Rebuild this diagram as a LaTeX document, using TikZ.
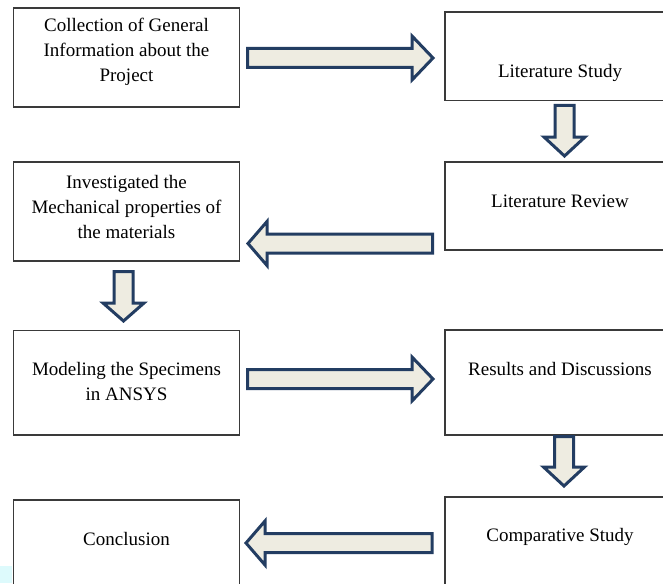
\documentclass[tikz,border=0pt]{standalone}
\usepackage{fontspec}
\setmainfont{Liberation Serif}
\definecolor{arrowline}{HTML}{233D62}
\definecolor{arrowfill}{HTML}{EEECE1}
\definecolor{boxline}{HTML}{3A3A3A}
\definecolor{blob}{HTML}{DDFAFC}
\newcommand{\harrow}[4]{%
  \draw[barrow] (#1,#4-9.5) -- (#2,#4-9.5) -- (#2,#4-22) -- (#3,#4) -- (#2,#4+22) -- (#2,#4+9.5) -- (#1,#4+9.5) -- cycle;}
\newcommand{\varrow}[4]{%
  \draw[barrow] (#4-9.5,#1) -- (#4-9.5,#2) -- (#4-20.5,#2) -- (#4,#3) -- (#4+20.5,#2) -- (#4+9.5,#2) -- (#4+9.5,#1) -- cycle;}
\begin{document}
\begin{tikzpicture}[x=1pt,y=-1pt,
  box/.style={draw=boxline, line width=1.1pt, rectangle, inner sep=0pt},
  lbox/.style={box, minimum width=226pt},
  rbox/.style={box, minimum width=230pt},
  txt/.style={align=center, inner sep=0pt, font=\fontsize{19}{25}\selectfont},
  barrow/.style={draw=arrowline, fill=arrowfill, line width=3pt, line join=miter}]
\clip (0,0) rectangle (663,583);
\fill[white] (0,0) rectangle (663,583);
\fill[blob] (0,566) rectangle (12,583);
% boxes
\node[lbox, minimum height=99pt] (b1) at (126.5,57.5) {};
\node[rbox, minimum height=88.5pt] (b2) at (560,56.25) {};
\node[rbox, minimum height=88pt] (b3) at (560,206) {};
\node[lbox, minimum height=99pt] (b4) at (126.5,211.5) {};
\node[lbox, minimum height=104.5pt] (b5) at (126.5,382.75) {};
\node[rbox, minimum height=105pt] (b6) at (560,382.5) {};
\node[lbox, minimum height=100pt] (b7) at (126.5,550) {};
\node[rbox, minimum height=103pt] (b8) at (560,548.5) {};
% texts
\node[txt] (t1) at (126.5,51.5) {Collection of General\\Information about the\\Project};
\node[txt] (t2) at (560,73) {Literature Study};
\node[txt] (t3) at (560,201) {Literature Review};
\node[txt] (t4) at (126.5,207) {Investigated the\\Mechanical properties of\\the materials};
\node[txt] (t5) at (126.5,381) {Modeling the Specimens\\in ANSYS};
\node[txt] (t6) at (560,369) {Results and Discussions};
\node[txt] (t7) at (126.5,539) {Conclusion};
\node[txt] (t8) at (560,537) {Comparative Study};
% block arrows
\harrow{247.5}{412}{433}{58}
\varrow{105.5}{137}{156}{564.5}
\harrow{432.5}{267}{248}{243.5}
\varrow{271.5}{303}{321}{123.5}
\harrow{247.5}{412}{433}{379}
\varrow{436.5}{467}{486}{564}
\harrow{432}{265}{246}{543}
\end{tikzpicture}
\end{document}
